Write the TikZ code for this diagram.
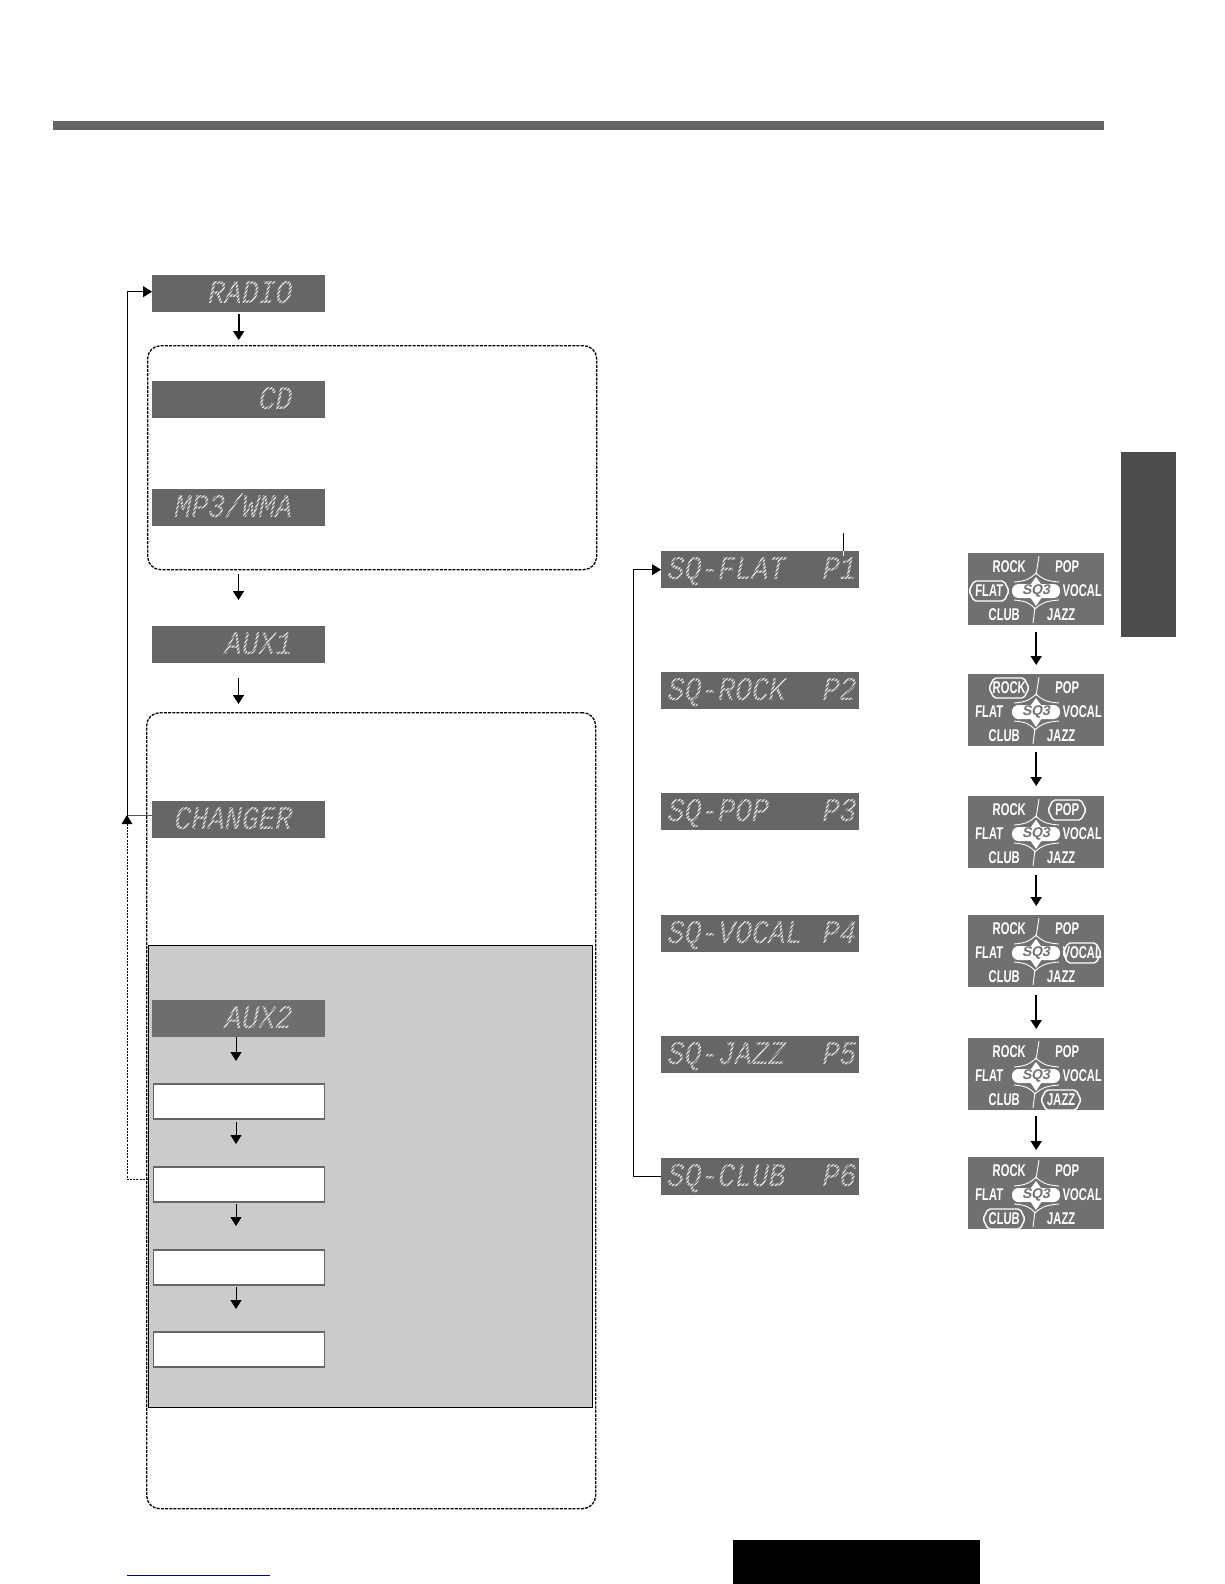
\documentclass[tikz,border=0pt]{standalone}
\usepackage{fontspec}
\usetikzlibrary{arrows.meta,patterns.meta,calc}
\newfontfamily\lcdfont[FakeSlant=0.2,FakeStretch=0.85]{Liberation Mono}
\newfontfamily\eqfont[FakeStretch=0.66,FakeSlant=0.04]{Liberation Sans Bold}
\newfontfamily\sqfont[FakeSlant=0.2]{Liberation Sans Bold}
\definecolor{lcdgray}{HTML}{666666}
\definecolor{auxgray}{HTML}{6E6E6E}
\definecolor{lcdtext}{HTML}{E8E8E8}
\definecolor{boxgray}{HTML}{CBCBCB}
\definecolor{panelgray}{HTML}{707070}
\tikzset{
  lcd/.style={fill=lcdgray,draw=none,anchor=north west,inner sep=0pt,minimum height=37pt},
  lcdleft/.style={lcd,minimum width=173pt},
  lcdright/.style={lcd,minimum width=198pt},
  lcdtxt/.style={text=lcdtext,inner sep=0pt,font=\lcdfont\fontsize{33}{33}\selectfont},
  lcdmask/.style={pattern={Lines[angle=45,distance=2.6pt,line width=1pt]},pattern color=#1},
  dashbox/.style={draw=black,line width=1.3pt,dash pattern=on 3pt off 1.2pt,rounded corners=13pt},
  whitebox/.style={draw=lcdgray,fill=white,line width=1.8pt,anchor=north west,inner sep=0pt,minimum width=171pt,minimum height=35pt},
  bigarrow/.style={line width=1.7pt,-{Triangle[width=11pt,length=9pt]}},
  smallarrow/.style={line width=1pt,-{Triangle[width=11pt,length=9pt]}},
  backline/.style={line width=1pt,-{Triangle[width=11pt,length=9pt]}},
  panelbox/.style={fill=panelgray,anchor=north west,inner sep=0pt,minimum width=136pt,minimum height=72pt},
  eqword/.style={text=white,inner sep=0pt,font=\eqfont\fontsize{17}{17}\selectfont},
  sqword/.style={text=panelgray,inner sep=0pt,font=\sqfont\fontsize{14}{14}\selectfont},
  eqhl/.style={draw=white,line width=1.4pt,rounded corners=2pt},
}
\newcommand{\eqpanel}[6]{%
  \node[panelbox] (#1) at (#2,#3) {};
  \begin{scope}[shift={(#2,#3)}]
    \draw[white,line width=.9pt] (71,3) -- (68,22);
    \draw[white,line width=.9pt] (67,54) -- (65,70);
    \draw[white,line width=.9pt] (46,29) .. controls (58,28) and (62,26) .. (68,20) .. controls (74,26) and (78,28) .. (91,29);
    \draw[white,line width=.9pt] (46,47) .. controls (58,48) and (62,50) .. (67,56) .. controls (73,50) and (78,48) .. (91,47);
    \fill[white] (68,24) -- (78,38) -- (68,53) -- (58,38) -- cycle;
    \fill[white,rounded corners=6.5pt] (44,31) rectangle (92,45);
    \node[sqword] (#1sq) at (68,38) {SQ3};
    \node[eqword] (#1a) at (41,14) {ROCK};
    \node[eqword] (#1b) at (99,14) {POP};
    \node[eqword] (#1c) at (21,38) {FLAT};
    \node[eqword] (#1d) at (114,38) {VOCAL};
    \node[eqword] (#1e) at (36,62) {CLUB};
    \node[eqword] (#1f) at (93,62) {JAZZ};
    \draw[eqhl] ({#4-#6},#5) -- ({#4-#6+5},#5-10) -- ({#4+#6-5},#5-10) -- ({#4+#6},#5) -- ({#4+#6-5},#5+10) -- ({#4-#6+5},#5+10) -- cycle;
  \end{scope}
}
\newcommand{\masklcd}[2]{\path[lcdmask=#2] ([shift={(2pt,-2pt)}]#1.north west) rectangle ([shift={(-2pt,2pt)}]#1.south east);}
\begin{document}
\begin{tikzpicture}[x=1pt,y=-1pt]
\useasboundingbox[fill=white] (0,0) rectangle (1224,1584);
% header and side tab
\node[fill=lcdgray,anchor=north west,inner sep=0pt,minimum width=1051pt,minimum height=9pt] (topbar) at (53,121) {};
\node[fill=black!70,anchor=north west,inner sep=0pt,minimum width=55pt,minimum height=185pt] (sidetab) at (1121,452) {};
% dashed groups
\node[dashbox,anchor=north west,inner sep=0pt,minimum width=449pt,minimum height=224pt] (grpa) at (147,345) {};
\node[dashbox,anchor=north west,inner sep=0pt,minimum width=449pt,minimum height=796pt] (grpb) at (146,712) {};
\node[draw=black,fill=boxgray,line width=1pt,anchor=north west,inner sep=0pt,minimum width=444pt,minimum height=462pt] (graybox) at (148,945) {};
% left displays
\node[lcdleft] (radio) at (152,275) {};
\node[lcdtxt,anchor=base east] (radiot) at (291,303) {RADIO};
\masklcd{radio}{lcdgray}
\node[lcdleft] (cd) at (152,381) {};
\node[lcdtxt,anchor=base east] (cdt) at (291,409) {CD};
\masklcd{cd}{lcdgray}
\node[lcdleft] (mp) at (152,489) {};
\node[lcdtxt,anchor=base east] (mpt) at (291,517) {MP3/WMA};
\masklcd{mp}{lcdgray}
\node[lcdleft] (auxa) at (152,626) {};
\node[lcdtxt,anchor=base east] (auxat) at (291,654) {AUX1};
\masklcd{auxa}{lcdgray}
\node[lcdleft] (changer) at (152,801) {};
\node[lcdtxt,anchor=base east] (changert) at (291,829) {CHANGER};
\masklcd{changer}{lcdgray}
\node[lcdleft,fill=auxgray] (auxb) at (152,1000) {};
\node[lcdtxt,anchor=base east] (auxbt) at (291,1028) {AUX2};
\masklcd{auxb}{auxgray}
\node[whitebox] (wa) at (152.5,1083) {};
\node[whitebox] (wb) at (152.5,1166) {};
\node[whitebox] (wc) at (152.5,1249) {};
\node[whitebox] (wd) at (152.5,1331) {};
% arrows, left column
\draw[bigarrow,shorten <=2pt,shorten >=5pt] (radio.south) -- (grpa.north-|radio.south);
\coordinate (ga) at (238.5,574);
\coordinate (gb) at (238.5,600);
\draw[bigarrow] (ga) -- (gb);
\coordinate (gc) at (238.5,678);
\draw[bigarrow,shorten >=8pt] (gc) -- (grpb.north-|gc);
\draw[smallarrow,shorten >=22pt] (236,1037) -- (236,1083);
\coordinate (sa) at (236,1122);
\coordinate (sb) at (236,1204);
\coordinate (sc) at (236,1287);
\draw[smallarrow,shorten >=22pt] (sa) -- (sa|-wb.north);
\draw[smallarrow,shorten >=23pt] (sb) -- (sb|-wc.north);
\draw[smallarrow,shorten >=22pt] (sc) -- (sc|-wd.north);
% loop back
\coordinate (lj) at (127,815);
\coordinate (ds) at (148,1179);
\draw[black!65,line width=.9pt] (lj-|changer.west) -- (lj);
\draw[backline] (lj) |- ([yshift=2pt]radio.west);
\draw[line width=1pt,dash pattern=on 2pt off 1.2pt] (ds) -- (ds-|lj) -- (lj);
\fill (127,815) -- (121.5,824) -- (132.5,824) -- cycle;
% right displays
\node[lcdright] (sqa) at (661,551) {};
\node[lcdtxt,anchor=base west] (sqat) at (666,579) {SQ-FLAT};
\node[lcdtxt,anchor=base east] (sqap) at (855,579) {P1};
\masklcd{sqa}{lcdgray}
\node[lcdright] (sqb) at (661,672) {};
\node[lcdtxt,anchor=base west] (sqbt) at (666,700) {SQ-ROCK};
\node[lcdtxt,anchor=base east] (sqbp) at (855,700) {P2};
\masklcd{sqb}{lcdgray}
\node[lcdright] (sqc) at (661,793) {};
\node[lcdtxt,anchor=base west] (sqct) at (666,821) {SQ-POP};
\node[lcdtxt,anchor=base east] (sqcp) at (855,821) {P3};
\masklcd{sqc}{lcdgray}
\node[lcdright] (sqd) at (661,915) {};
\node[lcdtxt,anchor=base west] (sqdt) at (666,943) {SQ-VOCAL};
\node[lcdtxt,anchor=base east] (sqdp) at (855,943) {P4};
\masklcd{sqd}{lcdgray}
\node[lcdright] (sqe) at (661,1036) {};
\node[lcdtxt,anchor=base west] (sqet) at (666,1064) {SQ-JAZZ};
\node[lcdtxt,anchor=base east] (sqep) at (855,1064) {P5};
\masklcd{sqe}{lcdgray}
\node[lcdright] (sqf) at (661,1158) {};
\node[lcdtxt,anchor=base west] (sqft) at (666,1186) {SQ-CLUB};
\node[lcdtxt,anchor=base east] (sqfp) at (855,1186) {P6};
\masklcd{sqf}{lcdgray}
\coordinate (tk) at (843,533);
\draw[line width=1pt] (tk) -- (tk|-sqa.north);
\draw[white,line width=1pt] (tk|-sqa.north) -- ++(0,5);
\coordinate (rj) at (633,900);
\draw[backline] (sqf.west) -| (rj|-sqa.west) -- (sqa.west);
% equalizer panels
\eqpanel{pa}{968}{553}{21}{38}{20}
\eqpanel{pb}{968}{674}{41}{14}{20}
\eqpanel{pc}{968}{796}{99}{14}{19}
\eqpanel{pd}{968}{915}{114}{38}{19}
\eqpanel{pe}{968}{1038}{93}{62}{20}
\eqpanel{pf}{968}{1157}{36}{62}{21}
\draw[bigarrow,shorten <=7pt,shorten >=9pt] (pa.south) -- (pb.north);
\draw[bigarrow,shorten <=6pt,shorten >=10pt] (pb.south) -- (pc.north);
\draw[bigarrow,shorten <=7pt,shorten >=9pt] (pc.south) -- (pd.north);
\draw[bigarrow,shorten <=8pt,shorten >=9pt] (pd.south) -- (pe.north);
\draw[bigarrow,shorten <=6pt,shorten >=7pt] (pe.south) -- (pf.north);
% footer
\node[fill=black,anchor=north west,inner sep=0pt,minimum width=247pt,minimum height=44pt] (footbar) at (733,1540) {};
\coordinate (la) at (127,1575);
\coordinate (lb) at (270,1575);
\draw[blue!50!black,line width=1pt] (la) -- (lb);
\end{tikzpicture}
\end{document}
